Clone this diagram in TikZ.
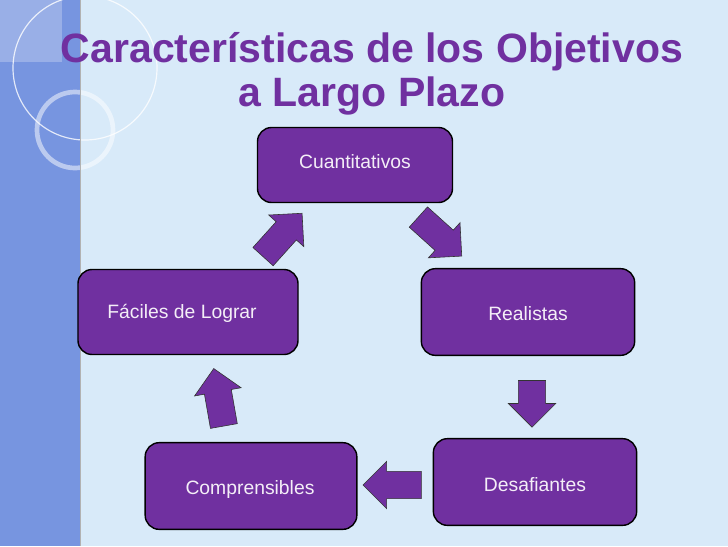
\documentclass[tikz,border=0pt]{standalone}
\usepackage{fontspec}
\setmainfont{Liberation Sans}
\usetikzlibrary{positioning,shapes.arrows}
\definecolor{violeta}{HTML}{7030A0}
\definecolor{fondo}{HTML}{D8EAF9}
\definecolor{franja}{HTML}{7795E0}
\tikzset{%
  caja/.style = {rectangle,draw=black,line width=1.2pt,fill=violeta,
        rounded corners=12pt},
  rotulo/.style = {text=white!92!violeta,font=\fontsize{16.5}{18}\selectfont},
  flecha/.style = {single arrow,draw=black!80,line width=0.5pt,fill=violeta,
        minimum height=1.75cm,text height=0.4cm,text depth=0.4cm,text width=0pt,
        single arrow head extend=0.3cm,inner sep=0pt,anchor=center}
}
\begin{document}
\begin{tikzpicture}[x=0.03cm,y=-0.03cm]
  % fondo
  \useasboundingbox (0,0) rectangle (728,546);
  \clip (0,0) rectangle (728,546);
  \fill[fondo] (0,0) rectangle (728,546);
  \fill[franja] (0,0) rectangle (80,546);
  \fill[white,opacity=0.25] (0,0) rectangle (62,62);
  \draw[white,opacity=0.8,line width=1pt] (85,68) circle (72);
  \draw[white,opacity=0.5,line width=4pt] (75,130) circle (38);
  \draw[black!30,line width=0.6pt] (80,0) -- (80,546);
  % titulo
  \node[text=violeta,font=\bfseries\fontsize{35}{38}\selectfont,align=center] (titulo)
       at (372,74) {Características de los Objetivos\\a Largo Plazo};
  % cajas
  \node[caja,minimum width=5.85cm,minimum height=2.25cm] (cuant) at (355,165) {};
  \node[caja,minimum width=6.6cm,minimum height=2.55cm] (facil) at (188,312) {};
  \node[caja,minimum width=6.4cm,minimum height=2.6cm] (real) at (528,312) {};
  \node[caja,minimum width=6.1cm,minimum height=2.6cm] (desaf) at (535,482) {};
  \node[caja,minimum width=6.35cm,minimum height=2.6cm] (compr) at (251,486) {};
  \node[rotulo] at (355,162) {Cuantitativos};
  \node[rotulo] at (182,313) {Fáciles de Lograr};
  \node[rotulo] at (528,314) {Realistas};
  \node[rotulo] at (535,485) {Desafiantes};
  \node[rotulo] at (250,489) {Comprensibles};
  % flechas
  \node[flecha,rotate=-42] (f1) at (435,232) {};
  \node[flecha,rotate=-90,minimum height=1.4cm] (f2) at (532,397) {};
  \node[flecha,rotate=180] (f3) at (399,485) {};
  \node[flecha,rotate=100] (f4) at (220,404) {};
  \node[flecha,rotate=48] (f5) at (278,240) {};
\end{tikzpicture}
\end{document}
